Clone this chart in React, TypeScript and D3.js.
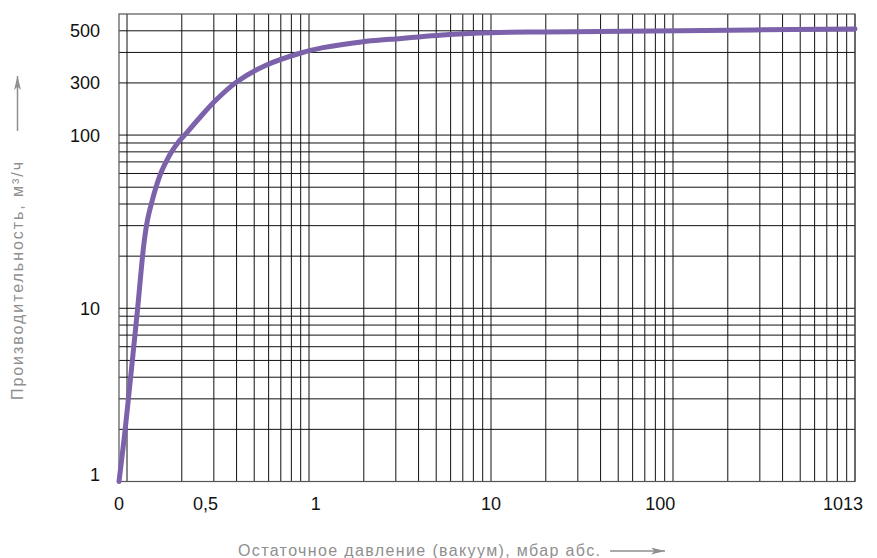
import React from 'react';
import * as d3 from 'd3';

// curve (pressure, mbar abs. -> flow, m3/h)
const pressure = [0, 0.0625, 0.1019, 0.1079, 0.1142, 0.1194, 0.124, 0.1296, 0.1363, 0.1443, 0.1543, 0.1652, 0.176, 0.1913, 0.2083, 0.2487, 0.3045, 0.4, 0.573, 0.892, 1.194, 1.98, 2.79, 5.95, 10, 20, 109, 1000];
const flow = [1, 1.74, 3.03, 5.45, 9.78, 16.2, 23.8, 32.3, 40.4, 50, 61.2, 71.2, 80.2, 90.9, 100.5, 124.7, 157.3, 202.6, 251.6, 296.7, 319.6, 346, 357, 380.9, 390, 394, 400.7, 410];

// tick labels and where the original puts them (in data units)
const xTickLabels = ['0', '0,5', '1', '10', '100', '1013'];
const xTickAt = [0, 0.27, 1.09, 10, 85, 860];
const yTickLabels = ['1', '10', '100', '300', '500'];
const yTickAt = [1.09, 10, 100, 200, 400];

const xTitle = 'Остаточное давление (вакуум), мбар абс.';
const yTitle = 'Производительность, м³/ч';

const W = 877;
const H = 558;

const App = () => {
  const xLog = d3.scaleLog().domain([0.1, 1000]).range([127, 855]);
  const xZero = d3.scaleLinear().domain([0, 0.1]).range([119, 127]);
  const x = (v: number) => (v < 0.1 ? xZero(v) : xLog(v));
  const y = d3.scaleLog().domain([1, 500]).range([481.5, 14]);

  // grid: every 1..9 in each decade
  const xGrid: number[] = [0.1];
  [0.1, 1, 10, 100].forEach((d) => {
    for (let k = 2; k <= 10; k++) xGrid.push(d * k);
  });
  const yGrid: number[] = [];
  [1, 10].forEach((d) => {
    for (let k = 2; k <= 10; k++) yGrid.push(d * k);
  });
  [200, 300, 400].forEach((v) => yGrid.push(v));

  const line = d3
    .line<number>()
    .x((_, i) => x(pressure[i]))
    .y((d) => y(d))
    .curve(d3.curveCatmullRom.alpha(0.5));

  const font = '"Liberation Sans", Arial, Helvetica, sans-serif';
  const gray = '#8f8f8f';

  return (
    <svg width={W} height={H} style={{ position: 'absolute', left: 0, top: 0, background: '#fff' }}>
      <defs>
        <marker id="arr" viewBox="0 0 14 7" refX="14" refY="3.5" markerWidth="14" markerHeight="7" orient="auto" markerUnits="userSpaceOnUse">
          <path d="M0,0 L14,3.5 L0,7 L3.5,3.5 Z" fill={gray} />
        </marker>
      </defs>

      {/* grid */}
      <g stroke="#111" strokeWidth={1}>
        {xGrid.map((v) => (
          <line key={'x' + v} x1={x(v)} x2={x(v)} y1={y(1)} y2={y(500)} />
        ))}
        {yGrid.map((v) => (
          <line key={'y' + v} x1={x(0)} x2={x(1000)} y1={y(v)} y2={y(v)} />
        ))}
      </g>
      <rect x={x(0)} y={y(500)} width={x(1000) - x(0)} height={y(1) - y(500)} fill="none" stroke="#555" strokeWidth={1.2} />

      {/* curve */}
      <path d={line(flow) || ''} fill="none" stroke="#7B62AA" strokeWidth={5} strokeLinecap="round" strokeLinejoin="round" />

      {/* tick labels */}
      <g fontFamily={font} fontSize={18} fill="#111">
        {xTickLabels.map((t, i) => (
          <text key={t} x={x(xTickAt[i])} y={510} textAnchor="middle">{t}</text>
        ))}
        {yTickLabels.map((t, i) => (
          <text key={t} x={100} y={y(yTickAt[i])} dy="0.36em" textAnchor="end">{t}</text>
        ))}
      </g>

      {/* axis titles */}
      <text x={238} y={556} fontFamily={font} fontSize={16} fill={gray} textLength={362} lengthAdjust="spacing">{xTitle}</text>
      <line x1={610} x2={665} y1={551} y2={551} stroke={gray} strokeWidth={1.5} markerEnd="url(#arr)" />

      <text transform="translate(23,400) rotate(-90)" fontFamily={font} fontSize={16} fill={gray} textLength={238} lengthAdjust="spacing">{yTitle}</text>
      <line x1={17.5} x2={17.5} y1={131} y2={76} stroke={gray} strokeWidth={1.5} markerEnd="url(#arr)" />
    </svg>
  );
};

export default App;
